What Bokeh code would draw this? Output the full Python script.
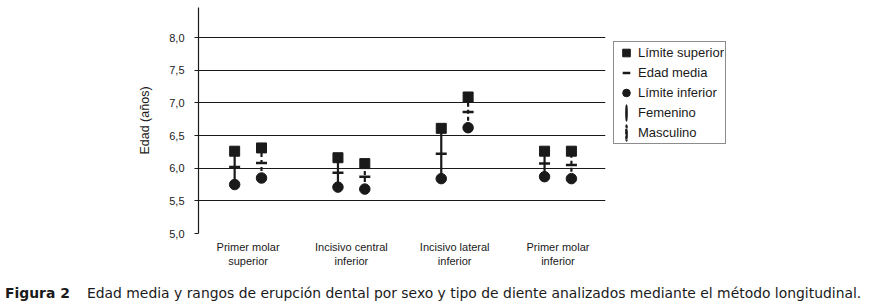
from bokeh.plotting import figure
from bokeh.models import Range1d, FixedTicker, Legend, LegendItem, Div
from bokeh.layouts import column
from bokeh.embed import file_html
from bokeh.resources import INLINE

# ---- data -------------------------------------------------------------
teeth = ["Primer molar\nsuperior", "Incisivo central\ninferior",
         "Incisivo lateral\ninferior", "Primer molar\ninferior"]
fem_upper = [6.26, 6.16, 6.61, 6.26]
fem_mean = [6.02, 5.93, 6.22, 6.07]
fem_lower = [5.75, 5.71, 5.84, 5.87]
masc_upper = [6.31, 6.07, 7.09, 6.26]
masc_mean = [6.08, 5.87, 6.86, 6.05]
masc_lower = [5.85, 5.68, 6.62, 5.84]
y_ticks = [5.0, 5.5, 6.0, 6.5, 7.0, 7.5, 8.0]
y_tick_labels = ["5,0", "5,5", "6,0", "6,5", "7,0", "7,5", "8,0"]
legend_labels = ["Límite superior", "Edad media", "Límite inferior", "Femenino", "Masculino"]
y_label = "Edad (años)"
caption_head = "Figura 2"
caption_text = ("Edad media y rangos de erupción dental por sexo y tipo de diente "
                "analizados mediante el método longitudinal.")

INK = "#1a1a1a"
FONT = "Liberation Sans"
DODGE = 0.13

pos = list(range(len(teeth)))
fem_x = [i - DODGE for i in pos]
masc_x = [i + DODGE for i in pos]

p = figure(frame_width=407, frame_height=226,
           x_range=Range1d(-0.48, 3.46), y_range=Range1d(5.0, 8.46),
           output_backend="svg", toolbar_location=None,
           min_border_left=198, min_border_right=135,
           min_border_top=7, min_border_bottom=33)
p.outline_line_color = None
p.background_fill_color = "white"

# grid
p.xgrid.grid_line_color = None
p.ygrid.grid_line_color = INK
p.ygrid.grid_line_width = 1
p.ygrid.ticker = FixedTicker(ticks=y_ticks)

# y axis
p.yaxis.ticker = FixedTicker(ticks=y_ticks)
p.yaxis.major_label_overrides = {t: l for t, l in zip(y_ticks, y_tick_labels)}
p.yaxis.axis_label = y_label
p.yaxis.axis_label_text_font = FONT
p.yaxis.axis_label_text_font_style = "normal"
p.yaxis.axis_label_text_font_size = "12.5px"
p.yaxis.axis_label_text_color = INK
p.yaxis.axis_label_standoff = 14
p.yaxis.major_label_text_font = FONT
p.yaxis.major_label_text_font_size = "11px"
p.yaxis.major_label_text_color = INK
p.yaxis.major_label_standoff = 10
p.yaxis.axis_line_color = INK
p.yaxis.axis_line_width = 1.2
p.yaxis.major_tick_line_color = INK
p.yaxis.major_tick_out = 4
p.yaxis.major_tick_in = 0
p.yaxis.minor_tick_line_color = None

# x axis
p.xaxis.ticker = FixedTicker(ticks=pos)
p.xaxis.major_label_overrides = {i: t for i, t in zip(pos, teeth)}
p.xaxis.major_label_text_font = FONT
p.xaxis.major_label_text_font_size = "11px"
p.xaxis.major_label_text_color = INK
p.xaxis.axis_line_color = None
p.xaxis.major_tick_line_color = None
p.xaxis.minor_tick_line_color = None
p.xaxis.major_tick_out = 0
p.xaxis.major_label_standoff = 7

# error bars
p.segment(x0=fem_x, y0=fem_lower, x1=fem_x, y1=fem_upper,
          line_color=INK, line_width=2.2)
p.segment(x0=masc_x, y0=masc_lower, x1=masc_x, y1=masc_upper,
          line_color=INK, line_width=2.2, line_dash="4 3")

# markers
xs = fem_x + masc_x
r_up = p.scatter(xs, fem_upper + masc_upper, marker="square", size=10,
                 fill_color=INK, line_color=INK)
r_mean = p.scatter(xs, fem_mean + masc_mean, marker="dash", size=11,
                   line_color=INK, line_width=2.5)
r_low = p.scatter(xs, fem_lower + masc_lower, marker="circle", size=10.5,
                  fill_color=INK, line_color=INK)

# legend keys for the sexes: thin ellipses over the ranges, muted so they are
# invisible on the plot and only drawn (as vertical strokes) in the legend
fem_mid = [(a + b) / 2 for a, b in zip(fem_upper, fem_lower)]
fem_h = [a - b for a, b in zip(fem_upper, fem_lower)]
masc_mid = [(a + b) / 2 for a, b in zip(masc_upper, masc_lower)]
masc_h = [a - b for a, b in zip(masc_upper, masc_lower)]
r_fem = p.ellipse(x=fem_x, y=fem_mid, width=1, height=fem_h,
                  width_units="screen", height_units="data",
                  fill_color=INK, line_color=INK, line_width=2.2)
r_masc = p.ellipse(x=masc_x, y=masc_mid, width=1, height=masc_h,
                   width_units="screen", height_units="data",
                   fill_color=None, line_color=INK, line_width=2.2, line_dash="5 2")
for r in (r_fem, r_masc):
    r.muted = True
    r.muted_glyph.line_alpha = 0
    r.muted_glyph.fill_alpha = 0

legend = Legend(items=[LegendItem(label=l, renderers=[r]) for l, r in
                       zip(legend_labels, [r_up, r_mean, r_low, r_fem, r_masc])],
                location=(8, 89))
legend.click_policy = "none"
legend.margin = 0
legend.padding = 1
legend.spacing = 1
legend.glyph_width = 22
legend.glyph_height = 19
legend.label_height = 19
legend.label_standoff = 1
legend.label_text_font = FONT
legend.label_text_font_size = "13px"
legend.label_text_color = INK
legend.border_line_color = INK
legend.border_line_width = 1
legend.background_fill_color = "white"
p.add_layout(legend, "right")

caption = Div(
    text=(f'<span style="font-weight:bold;display:inline-block;width:82px">{caption_head}</span>'
          f'<span>{caption_text}</span>'),
    width=853,
    styles={"font-family": "DejaVu Sans", "font-size": "13.9px", "color": INK,
            "padding-top": "10px", "white-space": "nowrap"})

layout = column(p, caption)
open("out.html", "w").write(file_html(layout, INLINE))
